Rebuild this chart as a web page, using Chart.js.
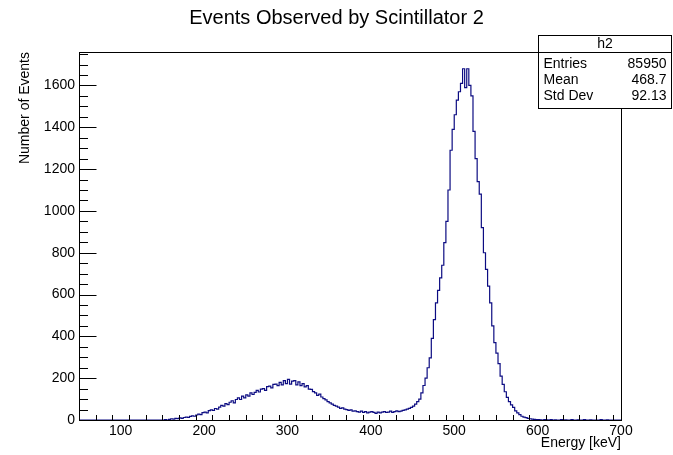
<!DOCTYPE html>
<html>
<head>
<meta charset="utf-8">
<title>Events Observed by Scintillator 2</title>
<script src="https://cdn.jsdelivr.net/npm/chart.js@4.4.0/dist/chart.umd.min.js"></script>
<style>
  html, body { margin: 0; padding: 0; background: #fff; }
  #wrap { width: 673px; height: 455px; position: relative; }
</style>
</head>
<body>
<div id="wrap"><canvas id="hist" width="673" height="455"></canvas></div>
<script>
"use strict";

// binning of h2 (keV)
var binLow = 50;
var binWidth = 2.5;

// counts per bin, 50 .. 700 keV
var counts = [
    0, 0, 0, 0, 0, 0, 0, 0, 0, 0,
    0, 0, 0, 0, 0, 0, 0, 0, 0, 0,
    0, 0, 0, 0, 0, 0, 0, 0, 0, 0,
    0, 0, 0, 0, 0, 0, 0, 0, 0, 0,
    0, 2, 0, 3,          // 150
    6, 4, 8, 7,
    10, 8, 12, 14,
    13, 17, 20, 18,
    24, 28, 26, 35,
    38, 34, 45, 48,      // 200
    46, 55, 52, 62,
    70, 66, 78, 74,
    85, 92, 82, 98,
    106, 98, 114, 106,
    120, 114, 130, 122,  // 250
    132, 142, 134, 148,
    150, 142, 160, 162,
    154, 170, 172, 164,
    180, 168, 188, 174,
    194, 172, 186, 188,  // 300
    168, 182, 164, 174,
    158, 164, 148, 146,
    136, 130, 118, 124,
    110, 102, 96, 88,
    82, 76, 70, 66,      // 350
    62, 56, 58, 52,
    50, 46, 48, 42,
    44, 40, 38, 42,
    36, 40, 34, 38,
    40, 36, 32, 38,      // 400
    34, 38, 40, 36,
    38, 42, 36, 40,
    44, 40, 42, 46,
    48, 52, 56, 60,
    66, 76, 88, 100,     // 450
    130, 165, 200, 250,
    297, 390, 480, 560,
    620, 680, 740, 848,
    950, 1100, 1290, 1390,
    1460, 1530, 1570, 1610, // 500
    1680, 1590, 1680, 1600,
    1550, 1380, 1250, 1140,
    1080, 920, 800, 720,
    640, 560, 450, 370,
    320, 270, 210, 170,  // 550
    135, 108, 88, 72,
    60, 44, 34, 26,
    18, 14, 11, 8,
    6, 4, 3, 2,
    2, 1, 0, 2,          // 600
    1, 0, 2, 0,
    1, 0, 0, 2,
    0, 1, 0, 0,
    2, 0, 0, 1,
    0, 0, 2, 0,          // 650
    0, 1, 0, 0,
    0, 0, 2, 0,
    0, 1, 0, 0,
    0, 0, 0, 0
];

var xRange = [50, 700];
var yRange = [0, 1760];
var xTickValues = [100, 200, 300, 400, 500, 600, 700];
var yTickValues = [0, 200, 400, 600, 800, 1000, 1200, 1400, 1600];
var xMinorStep = 20;
var yMinorStep = 50;

var histName = 'h2';
var statNames = ['Entries', 'Mean', 'Std Dev'];
var statValues = ['85950', '468.7', '92.13'];

var FONT = '"Liberation Sans", Arial, Helvetica, sans-serif';

// low edge of every bin, plus the closing edge at the end
var points = counts.map(function(c, i) {
    return { x: binLow + i * binWidth, y: c };
});
points.push({ x: binLow + counts.length * binWidth, y: counts[counts.length - 1] });

// frame, inner ticks, titles and the stats box, ROOT style
var rootFrame = {
    id: 'rootFrame',
    afterDraw: function(chart) {
        var ctx = chart.ctx;
        var a = chart.chartArea;
        var xs = chart.scales.x, ys = chart.scales.y;
        var L = Math.round(a.left) + 0.5, R = Math.round(a.right) + 0.5;
        var T = Math.round(a.top) + 0.5, B = Math.round(a.bottom) + 0.5;

        ctx.save();
        ctx.strokeStyle = '#000';
        ctx.lineWidth = 1;
        ctx.strokeRect(L, T, R - L, B - T);

        ctx.beginPath();
        // x ticks (inside, pointing up)
        for (var v = xRange[0]; v <= xRange[1]; v += xMinorStep) {
            if (v <= xRange[0]) continue;
            var px = Math.round(xs.getPixelForValue(v)) + 0.5;
            var len = (xTickValues.indexOf(v) >= 0) ? 11 : 5.5;
            ctx.moveTo(px, B);
            ctx.lineTo(px, B - len);
        }
        // y ticks (inside, pointing right)
        for (var w = yRange[0] + yMinorStep; w < yRange[1]; w += yMinorStep) {
            var py = Math.round(ys.getPixelForValue(w)) + 0.5;
            var l2 = (yTickValues.indexOf(w) >= 0) ? 17 : 8.5;
            ctx.moveTo(L, py);
            ctx.lineTo(L + l2, py);
        }
        ctx.stroke();

        ctx.fillStyle = '#000';
        // main title
        ctx.font = '20px ' + FONT;
        ctx.textAlign = 'center';
        ctx.textBaseline = 'middle';
        ctx.fillText('Events Observed by Scintillator 2', 336.5, 18);

        // axis titles
        ctx.font = '14px ' + FONT;
        ctx.textAlign = 'right';
        ctx.fillText('Energy [keV]', a.right, 443);
        ctx.save();
        ctx.translate(25, a.top);
        ctx.rotate(-Math.PI / 2);
        ctx.textAlign = 'right';
        ctx.fillText('Number of Events', 0, 0);
        ctx.restore();

        // stats box
        var bx = 538.5, bw = 133, by = 35.5, rowH = 16;
        var bh = 17 + rowH * statNames.length + 8;
        ctx.fillStyle = '#fff';
        ctx.fillRect(bx, by, bw, bh);
        ctx.strokeRect(bx, by, bw, bh);
        ctx.beginPath();
        ctx.moveTo(bx, T);
        ctx.lineTo(bx + bw, T);
        ctx.stroke();
        ctx.fillStyle = '#000';
        ctx.font = '14px ' + FONT;
        ctx.textAlign = 'center';
        ctx.fillText(histName, bx + bw / 2, 44.5);
        statNames.forEach(function(n, i) {
            var ty = 64 + i * rowH;
            ctx.textAlign = 'left';
            ctx.fillText(n, bx + 5, ty);
            ctx.textAlign = 'right';
            ctx.fillText(statValues[i], bx + bw - 5, ty);
        });
        ctx.restore();
    }
};

function plainLabel(value) {
    return String(value);
}

var chart = new Chart(document.getElementById('hist').getContext('2d'), {
    type: 'line',
    data: {
        datasets: [{
            label: histName,
            data: points,
            stepped: 'before',
            borderColor: '#0c0c82',
            borderWidth: 1.2,
            pointRadius: 0,
            fill: false,
            tension: 0
        }]
    },
    options: {
        responsive: false,
        animation: false,
        devicePixelRatio: 1,
        layout: { padding: { top: 52, right: 52, left: 0, bottom: 0 } },
        plugins: {
            legend: { display: false },
            title: { display: false },
            tooltip: { enabled: false }
        },
        scales: {
            x: {
                type: 'linear',
                min: xRange[0],
                max: xRange[1],
                grid: { display: false, drawTicks: false },
                border: { display: false },
                afterBuildTicks: function(scale) {
                    scale.ticks = xTickValues.map(function(v) { return { value: v }; });
                },
                afterFit: function(scale) { scale.height = 35; },
                ticks: {
                    autoSkip: false,
                    maxRotation: 0,
                    padding: 3,
                    color: '#000',
                    font: { family: FONT, size: 14 },
                    callback: plainLabel
                }
            },
            y: {
                type: 'linear',
                min: yRange[0],
                max: yRange[1],
                grid: { display: false, drawTicks: false },
                border: { display: false },
                afterBuildTicks: function(scale) {
                    scale.ticks = yTickValues.map(function(v) { return { value: v }; });
                },
                afterFit: function(scale) { scale.width = 79; },
                ticks: {
                    autoSkip: false,
                    padding: 4,
                    color: '#000',
                    font: { family: FONT, size: 14 },
                    callback: plainLabel
                }
            }
        }
    },
    plugins: [rootFrame]
});
</script>
</body>
</html>
